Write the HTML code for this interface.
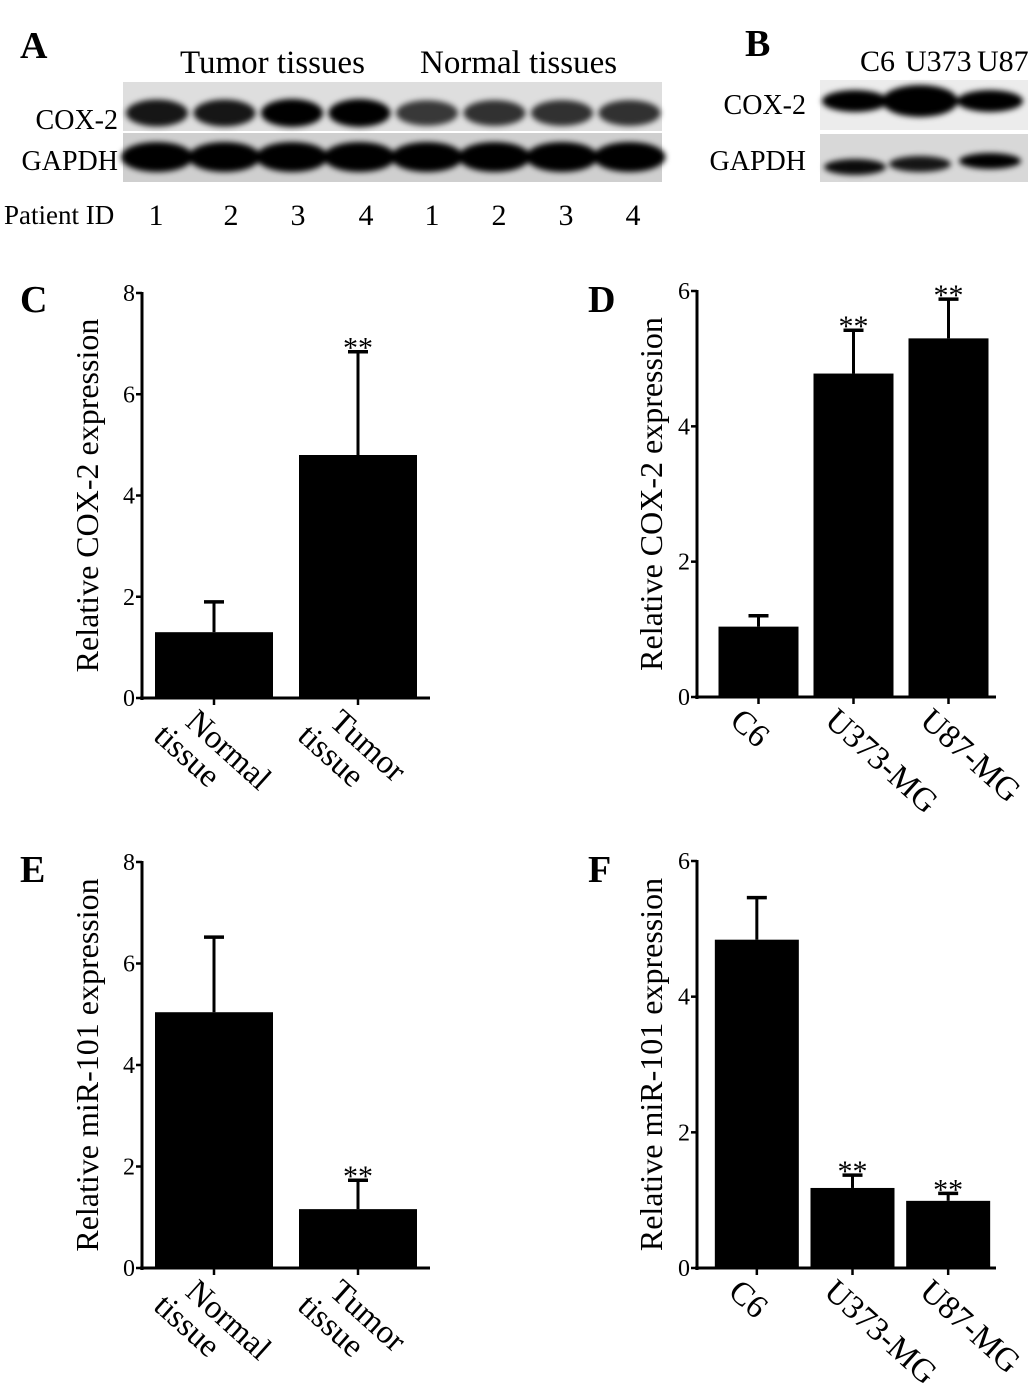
<!DOCTYPE html>
<html><head><meta charset="utf-8"><style>
html,body{margin:0;padding:0;background:#fff;}
svg{display:block;font-family:"Liberation Serif",serif;}
</style></head><body>
<svg id="fig" width="1033" height="1383" viewBox="0 0 1033 1383" xmlns="http://www.w3.org/2000/svg">
<defs>
<filter id="blur" x="-20%" y="-50%" width="140%" height="200%"><feGaussianBlur stdDeviation="3"/></filter>
</defs>
<g>
<text x="20" y="58" font-size="38" font-weight="bold">A</text>
<text x="180" y="73" font-size="33">Tumor tissues</text>
<text x="420" y="73" font-size="33">Normal tissues</text>
<text x="118" y="129" font-size="28" text-anchor="end">COX-2</text>
<text x="118" y="170" font-size="28" text-anchor="end">GAPDH</text>
<rect x="123" y="82" width="539" height="49" fill="#dedede"/>
<rect x="123" y="133" width="539" height="49" fill="#cfcfcf"/>
<g id="bandsA" filter="url(#blur)"></g>
<text x="4" y="224" font-size="27">Patient ID</text>
<g id="pidA" font-size="30"></g>
</g>
<g>
<text x="745" y="56" font-size="38" font-weight="bold">B</text>
<text x="860" y="71" font-size="30">C6</text>
<text x="905" y="71" font-size="30">U373</text>
<text x="977" y="71" font-size="30">U87</text>
<text x="806" y="114" font-size="28" text-anchor="end">COX-2</text>
<text x="806" y="170" font-size="28" text-anchor="end">GAPDH</text>
<rect x="820" y="80" width="208" height="50" fill="#ececec"/>
<rect x="820" y="134" width="208" height="48" fill="#d8d8d8"/>
<g id="bandsB" filter="url(#blur)"></g>
</g>
<g id="charts"></g>
</svg>
<script>
var NS="http://www.w3.org/2000/svg";
function mk(tag,attrs,parent){var e=document.createElementNS(NS,tag);for(var k in attrs)e.setAttribute(k,attrs[k]);parent.appendChild(e);return e;}

var bandsA_cox = [0.9,0.9,1.0,1.0,0.75,0.78,0.78,0.78];
var bandsA_gapdh = [1,1,1,1,1,1,1,1];
var pidLabels = ["1","2","3","4","1","2","3","4"];
var bandsB_cox = [1.0,1.0,1.0];
var bandsB_gapdh = [0.95,0.9,1.0];

var gA=document.getElementById('bandsA');
for(var i=0;i<8;i++){
  var cx=157+i*67.5;
  var b=mk('ellipse',{cx:cx,cy:113,rx:31,ry:9+bandsA_cox[i]*5,fill:'#000','fill-opacity':bandsA_cox[i]},gA);
  
  
  var g=mk('ellipse',{cx:cx,cy:157,rx:36,ry:15,fill:'#000','fill-opacity':bandsA_gapdh[i]},gA);
  
  
}
var pA=document.getElementById('pidA');
var pidX=[156,231,298,366,432,499,566,633];
for(var i=0;i<8;i++){
  var t=mk('text',{x:pidX[i],y:225,'text-anchor':'middle'},pA);t.textContent=pidLabels[i];
  
  
}
var gB=document.getElementById('bandsB');
var bx=[855,920,990];
for(var i=0;i<3;i++){
  var b=mk('ellipse',{cx:bx[i],cy:101,rx:i==1?38:33,ry:i==1?16:11,fill:'#000','fill-opacity':bandsB_cox[i]},gB);
  
  
  var g=mk('ellipse',{cx:bx[i],cy:167-i*3,rx:31,ry:8,fill:'#000','fill-opacity':bandsB_gapdh[i]},gB);
  
  
}

var cCats=["Normal tissue","Tumor tissue"];
var cVals=[1.3,4.8];
var cErr=[1.9,6.84];
var cStars=["","**"];
var dCats=["C6","U373-MG","U87-MG"];
var dVals=[1.04,4.78,5.3];
var dErr=[1.2,5.42,5.88];
var dStars=["","**","**"];
var eCats=["Normal tissue","Tumor tissue"];
var eVals=[5.04,1.16];
var eErr=[6.52,1.73];
var eStars=["","**"];
var fCats=["C6","U373-MG","U87-MG"];
var fVals=[4.84,1.18,0.99];
var fErr=[5.46,1.37,1.1];
var fStars=["","**","**"];
var ticks8=[0,2,4,6,8];
var ticks6=[0,2,4,6];

var root=document.getElementById('charts');
function chart(o){
  var g=mk('g',{},root);
  
  
  var yMax=o.ticks[o.ticks.length-1];
  function Y(v){return o.y0-(o.y0-o.yTop)*v/yMax;}
  var L=mk('text',{x:o.letterX,y:o.letterY,'font-size':38,'font-weight':'bold'},g);L.textContent=o.letter;
  
  
  var yl=mk('text',{x:0,y:0,'font-size':32,'text-anchor':'middle',transform:'translate('+o.ylabX+','+((o.y0+o.yTop)/2)+') rotate(-90)'},g);yl.textContent=o.ylab;
  
  
  var ax=mk('line',{x1:o.ax,y1:o.yTop-1,x2:o.ax,y2:o.y0+2,stroke:'#000','stroke-width':3},g);
  
  
  var xa=mk('line',{x1:o.ax-2,y1:o.y0,x2:o.xEnd,y2:o.y0,stroke:'#000','stroke-width':3},g);
  
  
  o.ticks.forEach(function(t){
    var tk=mk('line',{x1:o.ax-6,y1:Y(t),x2:o.ax,y2:Y(t),stroke:'#000','stroke-width':2.5},g);
    
    
    var tl=mk('text',{x:o.ax-7,y:Y(t)+8,'font-size':24,'text-anchor':'end'},g);tl.textContent=t;
    
    
  });
  var n=o.cats.length, start=o.ax+o.pad, slot=(o.xEnd-start)/n;
  for(var i=0;i<n;i++){
    var cx=start+slot*(i+0.5);
    var w=o.barW;
    var er=mk('line',{x1:cx,y1:Y(o.err[i]),x2:cx,y2:Y(o.vals[i]),stroke:'#000','stroke-width':3},g);
    
    
    var cap=mk('line',{x1:cx-10,y1:Y(o.err[i]),x2:cx+10,y2:Y(o.err[i]),stroke:'#000','stroke-width':3.5},g);
    
    
    var r=mk('rect',{x:cx-w/2,y:Y(o.vals[i]),width:w,height:o.y0-Y(o.vals[i]),fill:'#000'},g);
    
    
    var tk=mk('line',{x1:cx,y1:o.y0,x2:cx,y2:o.y0+7,stroke:'#000','stroke-width':2.5},g);
    
    
    if(o.stars[i]){
      var s=mk('text',{x:cx,y:Y(o.err[i])+6,'font-size':30,'text-anchor':'middle'},g);s.textContent=o.stars[i];
      
      
    }
    var parts=o.cats[i].split(' ');
    var lab=mk('text',{'font-size':33,transform:'translate('+(cx-o.labOff)+','+(o.y0+26)+') rotate(42)'},g);
    
    
    if(parts.length==2 && n==2){
      var t1=mk('tspan',{x:0,dy:0},lab);t1.textContent=parts[0];
      var t2=mk('tspan',{x:-14,dy:32},lab);t2.textContent=parts[1];
    } else lab.textContent=o.cats[i];
  }
}
chart({name:'panel-c-chart',letter:'C',letterX:20,letterY:312,ylab:'Relative COX-2 expression',ylabX:98,ax:142,pad:0,xEnd:430,y0:698,yTop:293,ticks:ticks8,cats:cCats,vals:cVals,err:cErr,stars:cStars,barW:118,labOff:30});
chart({name:'panel-d-chart',letter:'D',letterX:588,letterY:312,ylab:'Relative COX-2 expression',ylabX:662,ax:697,pad:14,xEnd:996,y0:697,yTop:291,ticks:ticks6,cats:dCats,vals:dVals,err:dErr,stars:dStars,barW:80,labOff:30});
chart({name:'panel-e-chart',letter:'E',letterX:20,letterY:882,ylab:'Relative miR-101 expression',ylabX:98,ax:142,pad:0,xEnd:430,y0:1268,yTop:862,ticks:ticks8,cats:eCats,vals:eVals,err:eErr,stars:eStars,barW:118,labOff:30});
chart({name:'panel-f-chart',letter:'F',letterX:588,letterY:882,ylab:'Relative miR-101 expression',ylabX:662,ax:697,pad:12,xEnd:996,y0:1268,yTop:861,ticks:ticks6,cats:fCats,vals:fVals,err:fErr,stars:fStars,barW:84,labOff:30});
</script>
</body></html>
